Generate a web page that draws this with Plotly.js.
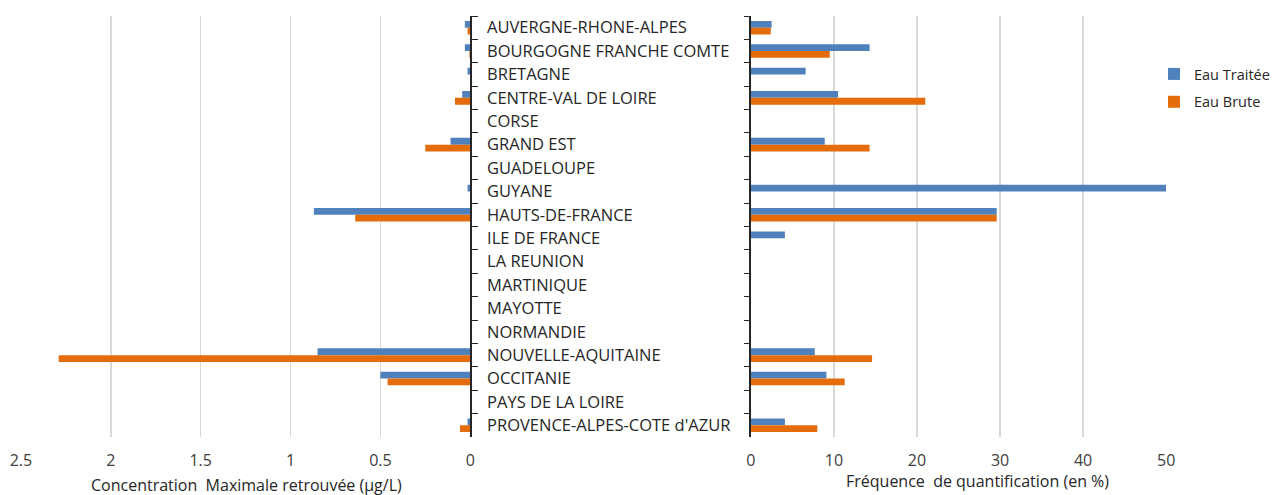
<!DOCTYPE html>
<html>
<head>
<meta charset="utf-8">
<script src="https://cdn.plot.ly/plotly-3.0.1.min.js"></script>
<style>
  html, body { margin: 0; padding: 0; overflow: hidden; background: #fff; }
  #graph { width: 1275px; height: 495px; }
</style>
</head>
<body>
<div id="graph"></div>
<script>
var regions = [
  "AUVERGNE-RHONE-ALPES", "BOURGOGNE FRANCHE COMTE", "BRETAGNE",
  "CENTRE-VAL DE LOIRE", "CORSE", "GRAND EST", "GUADELOUPE", "GUYANE",
  "HAUTS-DE-FRANCE", "ILE DE FRANCE", "LA REUNION", "MARTINIQUE",
  "MAYOTTE", "NORMANDIE", "NOUVELLE-AQUITAINE", "OCCITANIE",
  "PAYS DE LA LOIRE", "PROVENCE-ALPES-COTE d'AZUR"
];

// concentration maximale (µg/L)
var concTraitee = [0.03, 0.03, 0.015, 0.045, 0, 0.11, 0, 0.015, 0.87, 0, 0, 0, 0, 0, 0.85, 0.5, 0, 0.015];
var concBrute   = [0.015, 0.005, 0, 0.085, 0, 0.25, 0, 0, 0.64, 0, 0, 0, 0, 0, 2.29, 0.46, 0, 0.057];

// fréquence de quantification (%)
var freqTraitee = [2.5, 14.3, 6.6, 10.5, 0, 8.9, 0, 50, 29.6, 4.1, 0, 0, 0, 0, 7.7, 9.1, 0, 4.1];
var freqBrute   = [2.4, 9.5, 0, 21, 0, 14.3, 0, 0, 29.6, 0, 0, 0, 0, 0, 14.6, 11.3, 0, 8.0];

var blue = "#4f81bd";
var orange = "#e46c0a";
var txt = "#404040";

var data = [
  { type: "bar", orientation: "h", y: regions, x: concTraitee, xaxis: "x", yaxis: "y",
    name: "Eau Traitée", marker: { color: blue }, showlegend: false },
  { type: "bar", orientation: "h", y: regions, x: concBrute, xaxis: "x", yaxis: "y",
    name: "Eau Brute", marker: { color: orange }, showlegend: false },
  { type: "bar", orientation: "h", y: regions, x: freqTraitee, xaxis: "x2", yaxis: "y2",
    name: "Eau Traitée", legendgroup: "a", marker: { color: blue } },
  { type: "bar", orientation: "h", y: regions, x: freqBrute, xaxis: "x2", yaxis: "y2",
    name: "Eau Brute", legendgroup: "b", marker: { color: orange } }
];

var ydom = [1 - 437 / 495, 1 - 16 / 495];

var layout = {
  width: 1275,
  height: 495,
  margin: { l: 0, r: 0, t: 0, b: 0 },
  paper_bgcolor: "#fff",
  plot_bgcolor: "#fff",
  font: { family: "Open Sans, sans-serif", color: txt },
  barmode: "group",
  bargap: 0.42,
  bargroupgap: 0,
  xaxis: {
    domain: [21 / 1275, 471 / 1275],
    anchor: "y",
    range: [2.5, 0],
    dtick: 0.5,
    showgrid: true,
    gridcolor: "#d9d9d9",
    gridwidth: 1.5,
    zeroline: false,
    ticks: "",
    ticklabelstandoff: 12,
    tickfont: { size: 16, color: txt },
    fixedrange: true
  },
  yaxis: {
    domain: ydom,
    anchor: "x",
    side: "right",
    type: "category",
    autorange: "reversed",
    showgrid: false,
    showline: true,
    linecolor: "#262626",
    linewidth: 1.5,
    ticks: "outside",
    tickson: "boundaries",
    ticklen: 6,
    tickcolor: "#262626",
    ticklabelstandoff: 12,
    tickfont: { size: 16.5, color: "#262626" },
    fixedrange: true
  },
  xaxis2: {
    domain: [752 / 1275, 1168 / 1275],
    anchor: "y2",
    range: [0, 50],
    dtick: 10,
    showgrid: true,
    gridcolor: "#d9d9d9",
    gridwidth: 1.5,
    zeroline: false,
    ticks: "",
    ticklabelstandoff: 12,
    tickfont: { size: 16, color: txt },
    fixedrange: true
  },
  yaxis2: {
    domain: ydom,
    anchor: "x2",
    side: "left",
    type: "category",
    autorange: "reversed",
    showgrid: false,
    showline: true,
    linecolor: "#262626",
    linewidth: 1.5,
    ticks: "outside",
    tickson: "boundaries",
    ticklen: 5,
    tickcolor: "#262626",
    showticklabels: false,
    fixedrange: true
  },
  legend: {
    x: 1156 / 1275,
    y: 1 - 58 / 495,
    xanchor: "left",
    yanchor: "top",
    font: { size: 14.5, color: "#262626" },
    traceorder: "grouped",
    tracegroupgap: 6,
    bgcolor: "rgba(0,0,0,0)"
  },
  annotations: [
    { text: "Concentration  Maximale retrouvée (µg/L)", xref: "paper", yref: "paper",
      x: 247 / 1275, y: 0, xanchor: "center", yanchor: "bottom", yshift: -3,
      showarrow: false, font: { size: 16, color: "#262626" } },
    { text: "Fréquence  de quantification (en %)", xref: "paper", yref: "paper",
      x: 979 / 1275, y: 0, xanchor: "center", yanchor: "bottom", yshift: 1,
      showarrow: false, font: { size: 16, color: "#262626" } }
  ]
};

Plotly.newPlot("graph", data, layout, { displayModeBar: false, staticPlot: true });
</script>
</body>
</html>
